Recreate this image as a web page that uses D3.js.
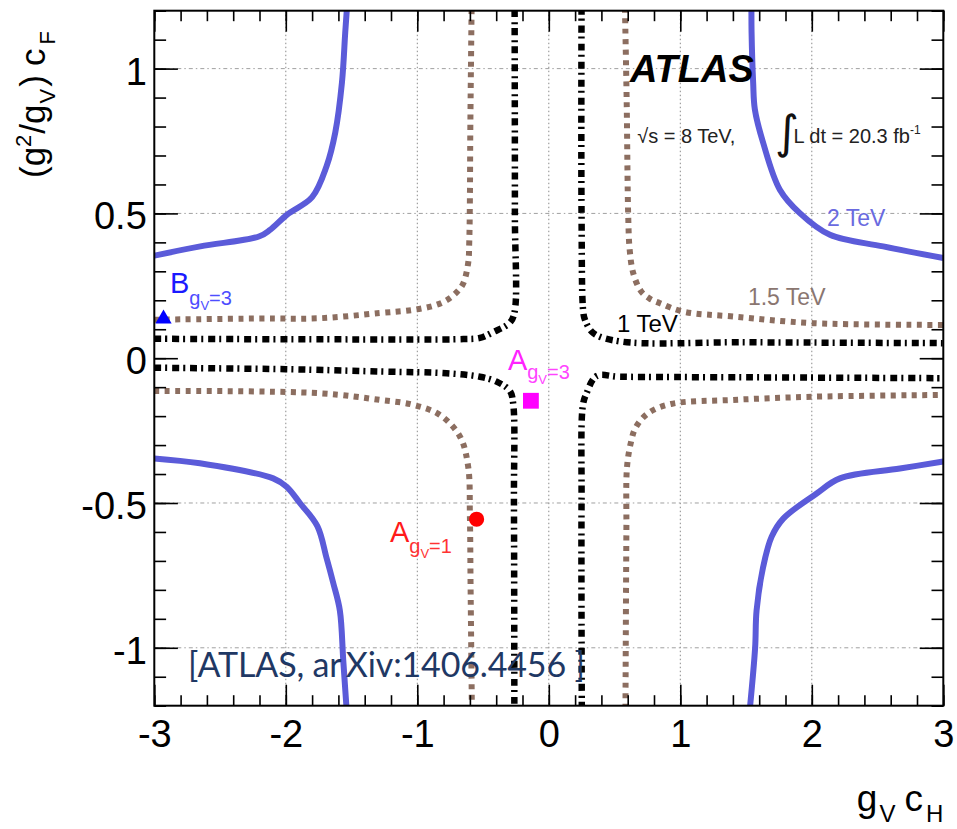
<!DOCTYPE html>
<html><head><meta charset="utf-8">
<script src="https://cdn.jsdelivr.net/npm/d3@7"></script>
<style>
body{margin:0;background:#fff;}
svg{display:block;font-family:"Liberation Sans",Arial,Helvetica,sans-serif;}
</style>
</head><body>
<svg id="chart" width="957" height="829"></svg>
<script>
// ---------------- data ----------------
const xTickValues = [-3, -2, -1, 0, 1, 2, 3];
const xTickLabels = ["-3", "-2", "-1", "0", "1", "2", "3"];
const yTickValues = [-1, -0.5, 0, 0.5, 1];
const yTickLabels = ["-1", "-0.5", "0", "0.5", "1"];
const xGridValues = [-2, -1, 0, 1, 2];
const yGridValues = [-1, -0.5, 0.5, 1];

// 2 TeV contour (four branches)
const tev2UpperLeft = [[-3.0,0.354],[-2.65,0.386],[-2.2,0.421],[-2.12,0.443],[-1.99,0.496],[-1.80,0.556],[-1.69,0.663],[-1.624,0.779],[-1.573,0.952],[-1.548,1.125],[-1.535,1.21]];
const tev2UpperRight = [[1.541,1.21],[1.542,1.125],[1.554,0.952],[1.567,0.859],[1.63,0.744],[1.757,0.582],[1.909,0.501],[2.138,0.426],[2.543,0.386],[3.0,0.346]];
const tev2LowerLeft = [[-3.0,-0.346],[-2.653,-0.363],[-2.096,-0.415],[-1.994,-0.444],[-1.893,-0.5],[-1.76,-0.58],[-1.69,-0.69],[-1.64,-0.775],[-1.589,-0.871],[-1.563,-1.044],[-1.538,-1.21]];
const tev2LowerRight = [[3.0,-0.357],[2.67,-0.381],[2.214,-0.415],[2.037,-0.467],[1.783,-0.554],[1.694,-0.617],[1.63,-0.721],[1.58,-0.871],[1.569,-1.0],[1.529,-1.21]];

// 1.5 TeV contour
const tev15UpperLeft = [[-3.0,0.133],[-2.2,0.137],[-1.74,0.138],[-1.284,0.156],[-1.031,0.167],[-0.87,0.182],[-0.777,0.2],[-0.70,0.228],[-0.651,0.258],[-0.613,0.329],[-0.605,0.4],[-0.60,0.55],[-0.597,0.78],[-0.587,1.21]];
const tev15UpperRight = [[0.579,1.21],[0.592,0.894],[0.604,0.49],[0.615,0.375],[0.642,0.294],[0.70,0.232],[0.77,0.205],[0.845,0.19],[1.022,0.161],[1.402,0.144],[2.011,0.121],[3.0,0.115]];
const tev15LowerLeft = [[-3.0,-0.113],[-1.74,-0.121],[-1.284,-0.144],[-1.031,-0.161],[-0.828,-0.196],[-0.675,-0.271],[-0.613,-0.375],[-0.60,-0.548],[-0.595,-0.778],[-0.585,-1.21]];
const tev15LowerRight = [[0.583,-1.21],[0.59,-0.6],[0.595,-0.375],[0.625,-0.29],[0.66,-0.24],[0.755,-0.19],[0.93,-0.158],[1.402,-0.144],[2.011,-0.133],[3.0,-0.127]];

// 1 TeV contour
const tev1UpperLeft = [[-3.0,0.067],[-1.5,0.065],[-0.65,0.066],[-0.524,0.07],[-0.423,0.09],[-0.3,0.121],[-0.262,0.156],[-0.258,0.5],[-0.26,1.21]];
const tev1UpperRight = [[0.249,1.21],[0.249,0.5],[0.262,0.16],[0.275,0.133],[0.338,0.087],[0.541,0.058],[1.5,0.055],[3.0,0.052]];
const tev1LowerLeft = [[-3.0,-0.033],[-2.0,-0.038],[-1.284,-0.046],[-0.777,-0.052],[-0.524,-0.064],[-0.397,-0.081],[-0.296,-0.113],[-0.271,-0.156],[-0.265,-0.5],[-0.262,-1.21]];
const tev1LowerRight = [[0.251,-1.21],[0.249,-0.5],[0.26,-0.16],[0.287,-0.121],[0.363,-0.062],[0.54,-0.064],[1.5,-0.066],[3.0,-0.069]];

// benchmark points
const benchX = [-2.93, -0.136, -0.549];
const benchY = [0.136, -0.147, -0.556];
const benchNames = ["B", "A", "A"];
const benchCoupling = ["3", "3", "1"];

// ---------------- drawing ----------------
const svg = d3.select("#chart");
const X0 = 154.3, X1 = 943.3, Y0 = 10.7, Y1 = 705.7;
const x = d3.scaleLinear().domain([-3, 3]).range([X0, X1]);
const y = d3.scaleLinear().domain([-1.2, 1.2]).range([Y1, Y0]);

svg.append("rect").attr("width", 957).attr("height", 829).attr("fill", "#fff");

svg.append("defs").append("clipPath").attr("id", "plotClip")
  .append("rect").attr("x", X0).attr("y", Y0).attr("width", X1 - X0).attr("height", Y1 - Y0);

// grid
const grid = svg.append("g");
grid.selectAll(".gx").data(xGridValues).join("line")
  .attr("x1", d => x(d)).attr("x2", d => x(d)).attr("y1", Y0).attr("y2", Y1)
  .attr("stroke", "#8a8a8a").attr("stroke-width", 1).attr("stroke-dasharray", "1.5,2.5");
grid.selectAll(".gy").data(yGridValues).join("line")
  .attr("y1", d => y(d)).attr("y2", d => y(d)).attr("x1", X0).attr("x2", X1)
  .attr("stroke", "#a0a0a0").attr("stroke-width", 1).attr("stroke-dasharray", "4,3,1.5,3");

// contours
const line = d3.line().x(d => x(d[0])).y(d => y(d[1])).curve(d3.curveCatmullRom.alpha(0.5));
const curves = svg.append("g").attr("clip-path", "url(#plotClip)");
[tev15UpperLeft, tev15UpperRight, tev15LowerLeft, tev15LowerRight].forEach(c =>
  curves.append("path").attr("d", line(c)).attr("fill", "none")
    .attr("stroke", "#8c6e60").attr("stroke-width", 6).attr("stroke-dasharray", "5,5.5"));
[tev1UpperLeft, tev1UpperRight, tev1LowerLeft, tev1LowerRight].forEach(c =>
  curves.append("path").attr("d", line(c)).attr("fill", "none")
    .attr("stroke", "#000").attr("stroke-width", 6.5).attr("stroke-dasharray", "7,4,2,5"));
[tev2UpperLeft, tev2UpperRight, tev2LowerLeft, tev2LowerRight].forEach(c =>
  curves.append("path").attr("d", line(c)).attr("fill", "none")
    .attr("stroke", "#5b5bd9").attr("stroke-width", 6).attr("stroke-linejoin", "round"));

// benchmark markers
const markerShapes = [d3.symbolTriangle, d3.symbolSquare, d3.symbolCircle];
const markerSizes = [115, 250, 180];
const markerColors = ["#0000ff", "#ff00ff", "#ff0000"];
benchX.forEach((bx, i) => {
  svg.append("path").attr("d", d3.symbol().type(markerShapes[i]).size(markerSizes[i])())
    .attr("transform", `translate(${x(bx)},${y(benchY[i])})`).attr("fill", markerColors[i]);
});

// benchmark labels
const labelPos = [[-2.881, 0.226], [-0.311, -0.040], [-1.208, -0.636]];
const labelColors = ["#1a1aff", "#ff22ff", "#ff1a1a"];
const subColors = ["#4d4dff", "#ff44ff", "#ff3333"];
const subDy = [12, 9, 11];
benchNames.forEach((n, i) => {
  const t = svg.append("text").attr("x", x(labelPos[i][0])).attr("y", y(labelPos[i][1]))
    .attr("fill", labelColors[i]).attr("font-size", 29);
  t.append("tspan").text(n);
  t.append("tspan").attr("font-size", 20).attr("dy", subDy[i]).attr("fill", subColors[i]).text("g");
  t.append("tspan").attr("font-size", 13).attr("dy", 5).attr("fill", subColors[i]).text("V");
  t.append("tspan").attr("font-size", 20).attr("dy", -5).attr("fill", subColors[i]).text("=" + benchCoupling[i]);
});

// contour labels
svg.append("text").attr("x", x(2.115)).attr("y", y(0.458)).attr("font-size", 23).attr("fill", "#6a6ae0").text("2 TeV");
svg.append("text").attr("x", x(1.514)).attr("y", y(0.184)).attr("font-size", 23).attr("fill", "#8a7670").text("1.5 TeV");
svg.append("text").attr("x", x(0.518)).attr("y", y(0.091)).attr("font-size", 24).attr("fill", "#000").text("1 TeV");

// ATLAS label
svg.append("text").attr("x", x(0.617)).attr("y", y(0.953)).attr("font-size", 38)
  .attr("font-weight", "bold").attr("font-style", "italic").attr("fill", "#000").text("ATLAS");
svg.append("text").attr("x", x(0.672)).attr("y", y(0.743)).attr("font-size", 20).attr("fill", "#222").text("\u221As = 8 TeV,");
svg.append("text").attr("x", x(1.72)).attr("y", y(0.725)).attr("font-size", 46)
  .attr("font-family", "DejaVu Sans").attr("fill", "#111").text("\u222B");
const lum = svg.append("text").attr("x", x(1.86)).attr("y", y(0.743)).attr("font-size", 20).attr("fill", "#222");
lum.append("tspan").text("L dt = 20.3 fb");
lum.append("tspan").attr("font-size", 12).attr("dy", -9).text("-1");

// frame
svg.append("rect").attr("x", X0).attr("y", Y0).attr("width", X1 - X0).attr("height", Y1 - Y0)
  .attr("fill", "none").attr("stroke", "#000").attr("stroke-width", 2);

// axes (ticks inward)
const xMinor = d3.range(-3, 3.001, 0.2).map(v => +v.toFixed(2));
const yMinor = d3.range(-1.2, 1.201, 0.1).map(v => +v.toFixed(2));
function styleAxis(g) { g.select(".domain").remove(); g.selectAll("line").attr("stroke", "#000").attr("stroke-width", 1.6); }

svg.append("g").attr("transform", `translate(0,${Y1})`)
  .call(d3.axisBottom(x).tickValues(xMinor).tickSize(-10.5).tickFormat("")).call(styleAxis);
svg.append("g").attr("transform", `translate(0,${Y0})`)
  .call(d3.axisTop(x).tickValues(xMinor).tickSize(-10.5).tickFormat("")).call(styleAxis);
svg.append("g").attr("transform", `translate(0,${Y0})`)
  .call(d3.axisTop(x).tickValues(xTickValues).tickSize(-21).tickFormat("")).call(styleAxis);
const xAxis = svg.append("g").attr("transform", `translate(0,${Y1})`)
  .call(d3.axisBottom(x).tickValues(xTickValues).tickSize(-21).tickFormat((d, i) => xTickLabels[i])).call(styleAxis);
xAxis.selectAll("text").attr("y", 41).attr("dy", 0).attr("font-size", 38)
  .attr("font-family", "Liberation Sans, Arial, sans-serif").attr("fill", "#000");

svg.append("g").attr("transform", `translate(${X0},0)`)
  .call(d3.axisLeft(y).tickValues(yMinor).tickSize(-11.8).tickFormat("")).call(styleAxis);
svg.append("g").attr("transform", `translate(${X1},0)`)
  .call(d3.axisRight(y).tickValues(yMinor).tickSize(-11.8).tickFormat("")).call(styleAxis);
svg.append("g").attr("transform", `translate(${X1},0)`)
  .call(d3.axisRight(y).tickValues(yTickValues).tickSize(-23.6).tickFormat("")).call(styleAxis);
const yAxis = svg.append("g").attr("transform", `translate(${X0},0)`)
  .call(d3.axisLeft(y).tickValues(yTickValues).tickSize(-23.6).tickFormat((d, i) => yTickLabels[i])).call(styleAxis);
yAxis.selectAll("text").attr("x", -7.5).attr("dy", 15.5).attr("font-size", 38)
  .attr("font-family", "Liberation Sans, Arial, sans-serif").attr("fill", "#000");

// axis titles
const xt = svg.append("text").attr("x", X1).attr("y", 811).attr("text-anchor", "end").attr("font-size", 37).attr("fill", "#000");
xt.append("tspan").text("g");
xt.append("tspan").attr("font-size", 24).attr("dy", 11).attr("dx", 2).text("V");
xt.append("tspan").attr("dy", -11).attr("dx", 9).text("c");
xt.append("tspan").attr("font-size", 24).attr("dy", 11).attr("dx", 3).text("H");

const yt = svg.append("text").attr("transform", "translate(45,178) rotate(-90)").attr("font-size", 35).attr("fill", "#000");
yt.append("tspan").text("(g");
yt.append("tspan").attr("font-size", 22).attr("dy", -14).text("2");
yt.append("tspan").attr("dy", 14).attr("dx", 1).text("/g");
yt.append("tspan").attr("font-size", 22).attr("dy", 10).attr("dx", 1).text("V");
yt.append("tspan").attr("dy", -10).attr("dx", 2).text(")");
yt.append("tspan").attr("dx", 9).text("c");
yt.append("tspan").attr("font-size", 22).attr("dy", 10).attr("dx", 4).text("F");

// citation
const cite = svg.append("text").attr("x", 188).attr("y", 677).attr("font-size", 34)
  .attr("font-family", "Lato, 'Open Sans', sans-serif").attr("fill", "#1f3864")
  .attr("textLength", 397).attr("lengthAdjust", "spacing");
cite.append("tspan").text("[ATLAS, ar");
cite.append("tspan").attr("dx", 6).text("Xiv:1406.4456 ]");
</script>
</body></html>
